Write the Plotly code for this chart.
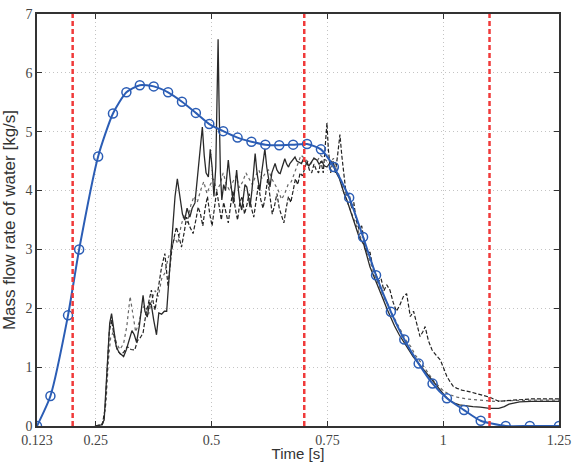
import plotly.graph_objects as go

# Blue model curve (markers)
model_t = [0.123, 0.152, 0.190, 0.214, 0.255, 0.287, 0.316, 0.345, 0.375, 0.406,
           0.436, 0.466, 0.495, 0.525, 0.556, 0.586, 0.616, 0.646, 0.676, 0.706,
           0.736, 0.764, 0.797, 0.827, 0.855, 0.887, 0.916, 0.947, 0.977, 1.008,
           1.045, 1.081, 1.135, 1.187, 1.25]
model_q = [0.0, 0.51, 1.88, 3.0, 4.58, 5.31, 5.67, 5.79, 5.77, 5.67,
           5.51, 5.32, 5.13, 5.01, 4.90, 4.83, 4.78, 4.77, 4.78, 4.79,
           4.70, 4.40, 3.88, 3.21, 2.56, 1.94, 1.47, 1.06, 0.72, 0.47,
           0.27, 0.09, 0.0, 0.0, 0.0]

# Measured run 1 (solid)
solid_t = [0.248, 0.262, 0.268, 0.272, 0.276, 0.280, 0.284, 0.289, 0.294, 0.300,
           0.306, 0.310, 0.316, 0.322, 0.328, 0.333, 0.338, 0.344, 0.349, 0.352,
           0.356, 0.361, 0.366, 0.370, 0.375, 0.381, 0.386, 0.392, 0.398, 0.403,
           0.407, 0.410, 0.414, 0.417, 0.421, 0.426, 0.430, 0.433, 0.437, 0.442,
           0.447, 0.453, 0.458, 0.464, 0.468, 0.471, 0.475, 0.480, 0.484, 0.488,
           0.493, 0.497, 0.501, 0.505, 0.509, 0.512, 0.514, 0.516, 0.519, 0.522,
           0.526, 0.530, 0.533, 0.536, 0.540, 0.544, 0.547, 0.551, 0.554, 0.558,
           0.561, 0.565, 0.569, 0.572, 0.576, 0.580, 0.583, 0.587, 0.590, 0.594,
           0.598, 0.601, 0.604, 0.608, 0.612, 0.615, 0.619, 0.623, 0.626, 0.630,
           0.634, 0.637, 0.641, 0.645, 0.648, 0.652, 0.655, 0.658, 0.662, 0.666,
           0.669, 0.673, 0.676, 0.680, 0.684, 0.688, 0.694, 0.699, 0.705, 0.710,
           0.716, 0.721, 0.727, 0.732, 0.738, 0.743, 0.749, 0.754, 0.758, 0.763,
           0.767, 0.770, 0.776, 0.781, 0.786, 0.792, 0.797, 0.802, 0.808, 0.813,
           0.818, 0.823, 0.828, 0.835, 0.842, 0.850, 0.857, 0.864, 0.871, 0.878,
           0.886, 0.895, 0.905, 0.915, 0.925, 0.935, 0.946, 0.958, 0.970, 0.982,
           0.993, 1.003, 1.013, 1.024, 1.035, 1.050, 1.064, 1.080, 1.100, 1.120,
           1.132, 1.142, 1.155, 1.165, 1.190, 1.220, 1.250]
solid_q = [0.0, 0.02, 0.1, 0.6, 1.3, 1.75, 1.91, 1.6, 1.35, 1.25,
           1.2, 1.18, 1.3, 1.45, 1.62, 1.55, 1.42, 1.7, 2.0, 2.22,
           1.95, 1.85, 2.1, 2.05, 1.8, 1.55, 1.92, 1.9, 1.95, 1.95,
           2.4, 2.7, 3.1, 3.4, 3.9, 4.2, 3.95, 3.84, 3.6, 3.5,
           3.7, 3.55, 3.7, 3.79, 4.1, 4.35, 4.6, 5.08, 4.6, 4.3,
           4.23, 4.7, 4.4, 3.9, 4.4, 5.5, 6.57, 5.5, 4.3, 3.84,
           4.1, 4.0, 4.3, 4.52, 4.2, 3.9, 3.78, 4.1, 4.35, 4.0,
           3.8, 3.67, 3.9, 4.1, 4.06, 3.85, 3.72, 4.0, 4.3, 4.63,
           4.3, 4.1, 4.0, 4.3, 4.5, 4.71, 4.4, 4.2, 4.06, 4.3,
           4.4, 4.46, 4.35, 4.3, 4.29, 4.4, 4.5, 4.54, 4.45, 4.4,
           4.46, 4.5, 4.55, 4.57, 4.5, 4.48, 4.46, 4.55, 4.46, 4.42,
           4.5, 4.55, 4.52, 4.45, 4.5, 4.42, 4.4, 4.45, 4.5, 4.46,
           4.35, 4.29, 4.2, 4.05, 3.95, 3.84, 3.72, 3.6, 3.45, 3.33,
           3.22, 3.15, 3.10, 2.9, 2.7, 2.55, 2.42, 2.3, 2.14, 2.0,
           1.85, 1.7, 1.55, 1.42, 1.3, 1.18, 1.07, 0.95, 0.83, 0.72,
           0.61, 0.52, 0.44, 0.39, 0.36, 0.34, 0.33, 0.32, 0.30, 0.30,
           0.33, 0.37, 0.39, 0.41, 0.42, 0.42, 0.42]

# Measured run 2 (dashed)
dash_t = [0.250, 0.264, 0.270, 0.274, 0.279, 0.284, 0.290, 0.296, 0.303, 0.310,
          0.318, 0.326, 0.334, 0.340, 0.346, 0.352, 0.358, 0.364, 0.370, 0.374,
          0.378, 0.384, 0.388, 0.392, 0.399, 0.403, 0.406, 0.410, 0.414, 0.419,
          0.424, 0.430, 0.435, 0.441, 0.446, 0.452, 0.460, 0.466, 0.471, 0.476,
          0.481, 0.486, 0.491, 0.496, 0.501, 0.506, 0.511, 0.516, 0.521, 0.526,
          0.531, 0.536, 0.541, 0.546, 0.551, 0.556, 0.561, 0.566, 0.571, 0.576,
          0.581, 0.586, 0.591, 0.596, 0.601, 0.606, 0.611, 0.616, 0.621, 0.626,
          0.631, 0.636, 0.641, 0.646, 0.651, 0.656, 0.661, 0.666, 0.671, 0.676,
          0.681, 0.686, 0.691, 0.696, 0.701, 0.706, 0.711, 0.716, 0.721, 0.726,
          0.731, 0.736, 0.741, 0.746, 0.749, 0.752, 0.757, 0.762, 0.767, 0.772,
          0.777, 0.781, 0.786, 0.791, 0.797, 0.802, 0.807, 0.812, 0.818, 0.824,
          0.830, 0.836, 0.842, 0.848, 0.854, 0.860, 0.866, 0.872, 0.878, 0.885,
          0.892, 0.899, 0.906, 0.914, 0.921, 0.929, 0.936, 0.943, 0.950, 0.956,
          0.961, 0.968, 0.976, 0.985, 0.994, 1.001, 1.008, 1.015, 1.022, 1.030,
          1.040, 1.058, 1.080, 1.100, 1.120, 1.135, 1.152, 1.170, 1.188, 1.220,
          1.250]
dash_q = [0.0, 0.02, 0.3, 1.0, 1.6, 1.8, 1.5, 1.3, 1.22, 1.25,
          1.35, 1.3, 1.29, 1.45, 1.5, 1.58, 1.9, 2.1, 2.31, 2.1,
          1.97, 2.3, 2.5, 2.7, 2.93, 2.6, 2.37, 2.7, 2.99, 3.2,
          3.38, 3.2, 3.04, 3.3, 3.55, 3.4, 3.27, 3.5, 3.72, 3.6,
          3.4, 3.7, 3.9, 3.6, 3.4, 3.7, 4.0, 3.75, 3.5, 3.8,
          3.6, 3.45, 3.75, 4.0, 3.7, 3.5, 3.8, 3.9, 3.6, 3.75,
          3.95, 3.7, 3.55, 3.8, 4.1, 3.85, 3.7, 3.9, 4.2, 3.9,
          3.6, 3.75, 3.95, 3.7, 3.55, 3.45, 3.7, 3.9, 3.8, 4.0,
          4.2, 4.1, 4.3, 4.25, 4.4, 4.5, 4.35, 4.3, 4.45, 4.35,
          4.3, 4.5, 4.3, 4.8, 5.15, 4.7, 4.3, 4.5, 4.3, 4.6,
          4.95, 4.6, 4.2, 3.9, 3.95, 3.7, 3.8, 3.5, 3.35, 3.4,
          3.1, 2.95, 2.95, 2.7, 2.6, 2.45, 2.5, 2.3, 2.4, 2.31,
          2.1, 1.95, 2.05, 2.2, 2.25, 1.86, 1.95, 1.75, 1.52, 1.6,
          1.69, 1.45, 1.29, 1.2, 1.12, 0.98, 0.84, 0.75, 0.67, 0.64,
          0.61, 0.58, 0.53, 0.49, 0.42, 0.43, 0.44, 0.45, 0.46, 0.46,
          0.46]

# Measured run 3 (dotted)
dot_t = [0.252, 0.266, 0.272, 0.277, 0.282, 0.288, 0.295, 0.302, 0.310, 0.317,
         0.324, 0.330, 0.336, 0.343, 0.350, 0.357, 0.364, 0.371, 0.378, 0.385,
         0.392, 0.399, 0.406, 0.413, 0.420, 0.427, 0.434, 0.441, 0.448, 0.455,
         0.462, 0.469, 0.476, 0.483, 0.490, 0.497, 0.504, 0.511, 0.518, 0.525,
         0.532, 0.539, 0.546, 0.553, 0.560, 0.567, 0.574, 0.581, 0.588, 0.595,
         0.602, 0.609, 0.616, 0.623, 0.630, 0.637, 0.644, 0.651, 0.658, 0.665,
         0.672, 0.679, 0.686, 0.693, 0.700, 0.707, 0.714, 0.721, 0.728, 0.735,
         0.742, 0.749, 0.756, 0.763, 0.770, 0.777, 0.784, 0.791, 0.798, 0.805,
         0.812, 0.819, 0.826, 0.834, 0.842, 0.850, 0.858, 0.866, 0.874, 0.882,
         0.890, 0.900, 0.910, 0.920, 0.930, 0.940, 0.950, 0.960, 0.970, 0.980,
         0.990, 1.000, 1.015, 1.030, 1.050, 1.080, 1.110, 1.140, 1.170, 1.200,
         1.250]
dot_q = [0.0, 0.05, 0.4, 1.1, 1.5, 1.6, 1.4, 1.3, 1.4, 1.7,
         2.2, 1.9, 1.6, 1.75, 2.0, 2.05, 1.9, 2.15, 2.3, 2.2,
         2.5, 2.6, 2.85, 3.0, 3.2, 3.1, 3.4, 3.6, 3.45, 3.75,
         3.9, 3.8, 4.0, 4.15, 3.95, 4.1, 4.2, 4.0, 4.1, 4.3,
         4.1, 4.0, 4.15, 4.25, 4.05, 4.15, 4.3, 4.2, 4.1, 4.25,
         4.35, 4.2, 4.3, 4.35, 4.2, 4.1, 4.0, 3.85, 3.95, 4.1,
         4.15, 4.3, 4.45, 4.6, 4.55, 4.5, 4.45, 4.55, 4.5, 4.6,
         4.55, 4.5, 4.45, 4.55, 4.4, 4.2, 4.0, 3.85, 3.7, 3.55,
         3.4, 3.25, 3.1, 2.95, 2.8, 2.6, 2.45, 2.3, 2.15, 2.05,
         1.9, 1.75, 1.6, 1.45, 1.35, 1.2, 1.1, 0.98, 0.86, 0.76,
         0.68, 0.6, 0.53, 0.49, 0.46, 0.44, 0.42, 0.43, 0.44, 0.44,
         0.44]

# Phase boundaries (red dashed lines)
phase_t = [0.2, 0.7, 1.1]

x_ticks = [0.123, 0.25, 0.5, 0.75, 1, 1.25]
x_ticktext = ["0.123", "0.25", "0.5", "0.75", "1", "1.25"]
y_ticks = [0, 1, 2, 3, 4, 5, 6, 7]

fig = go.Figure()

fig.add_trace(go.Scatter(x=dot_t, y=dot_q, mode="lines",
                         line=dict(color="#666666", width=1.2, dash="dot"),
                         showlegend=False))
fig.add_trace(go.Scatter(x=dash_t, y=dash_q, mode="lines",
                         line=dict(color="#222222", width=1.2, dash="4px,2px"),
                         showlegend=False))
fig.add_trace(go.Scatter(x=solid_t, y=solid_q, mode="lines",
                         line=dict(color="#2a2a2a", width=1.3),
                         showlegend=False))
fig.add_trace(go.Scatter(x=model_t, y=model_q, mode="lines+markers",
                         line=dict(color="#2b5db5", width=2, shape="spline", smoothing=0.6),
                         marker=dict(symbol="circle-open", size=9,
                                     color="#2b5db5", line=dict(width=1.5, color="#2b5db5")),
                         showlegend=False))

for t in phase_t:
    fig.add_vline(x=t, line=dict(color="#f03a3a", width=2.5, dash="5px,3px"))

axis_common = dict(showline=True, linecolor="#333333", linewidth=1.5, mirror="ticks",
                   ticks="inside", ticklen=5, tickcolor="#333333",
                   showgrid=True, gridcolor="#c4c4c4", gridwidth=1, griddash="1px,3px",
                   zeroline=False, automargin=False,
                   tickfont=dict(family="Liberation Serif", size=14, color="#444444"))

fig.update_xaxes(range=[0.123, 1.25], tickvals=x_ticks, ticktext=x_ticktext,
                 title=dict(text="Time [s]", standoff=6,
                            font=dict(family="Liberation Sans", size=15, color="#333333")),
                 **axis_common)
fig.update_yaxes(range=[0, 7], tickvals=y_ticks,
                 title=dict(text="Mass flow rate of water [kg/s]", standoff=6,
                            font=dict(family="Liberation Sans", size=17, color="#333333")),
                 **axis_common)

fig.update_layout(width=575, height=462,
                  margin=dict(l=37, r=16, t=14, b=36),
                  plot_bgcolor="white", paper_bgcolor="white")

fig.write_html("out.html")
